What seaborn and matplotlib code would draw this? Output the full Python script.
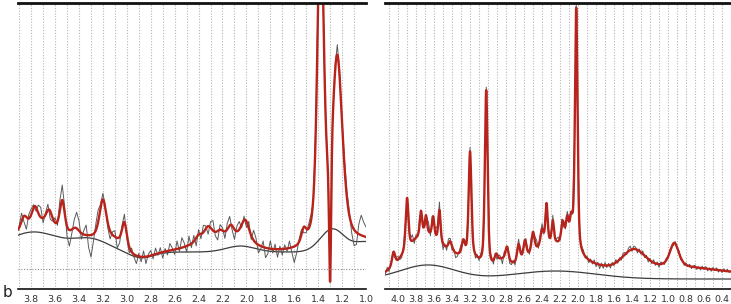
# %%
import numpy as np
import pandas as pd
import matplotlib.pyplot as plt
import seaborn as sns
from matplotlib.ticker import MultipleLocator, FormatStrFormatter

sns.set_style('white')

# %% left spectrum (3.90 - 1.00 ppm), heights in plot units
left_bl_offset = 37
left_bl_center = [3.78, 3.30, 2.88, 2.05, 1.28, 1.00]
left_bl_height = [20, 12, -6, 6, 23, 10]
left_bl_sigma = [0.22, 0.15, 0.10, 0.12, 0.10, 0.10]

left_broad_center = [3.70, 3.10, 2.25]
left_broad_height = [10, 7, 13]
left_broad_sigma = [0.12, 0.06, 0.18]

left_line_center = [3.86, 3.77, 3.65, 3.54, 3.43, 3.20, 3.02, 2.40, 2.32,
                    2.22, 2.13, 2.01, 1.52, 1.38, 1.30, 1.24]
left_line_height = [12, 16, 14, 32, 8, 40, 26, 6, 12,
                    5, 10, 20, 14, 330, -140, 170]
left_line_hwhm = [0.03, 0.03, 0.03, 0.025, 0.04, 0.035, 0.025, 0.03, 0.04,
                  0.03, 0.03, 0.04, 0.025, 0.03, 0.01, 0.05]

# residual of the measured trace, every 0.02 ppm from 3.90 to 1.00
left_resid = [2, 8, -6, -12, 4, 6,
              3, -4, 8, 10, -5, 2, 6, -8, -3, 5,
              -4, 10, 15, 6, -10, -16, -4, 8, 16, 10,
              -6, 4, 10, -12, -22, -8, 6, 12, 4, 6,
              2, -5, -8, 3, 6, -10, -6, 4, 8, -3,
              -6, 4, -3, -8, 3, -5, 6, -7, 2, 5,
              -4, 6, -2, 5, -6, 3, -4, 7, 2, -5,
              8, -3, 10, 4, -6, 9, -4, 6, -8, 5,
              -5, 7, 3, -8, 6, 10, -4, -9, 5, 3,
              -7, 6, 9, -4, -10, 5, 8, -3, 4, -6,
              7, -4, 10, 5, -8, -3, 6, -10, -5, 8,
              -4, 5, -8, 3, -6, 4, -3, 7, -5, -16,
              -8, 2, 5, -6, -4, 4, 6, -3, 5, 8,
              6, -4, 3, -2, 2, 4, 6, 10, 6, 2,
              8, 6, 4, -8, -16, -12, 10, 20, 14, 10]

# %% right spectrum (4.14 - 0.30 ppm)
right_bl_offset = 10
right_bl_center = [3.67, 2.25]
right_bl_height = [14, 8]
right_bl_sigma = [0.30, 0.45]

right_broad_center = [3.70, 3.30, 3.15, 2.85, 2.30, 1.38, 1.00]
right_broad_height = [30, 8, 10, 12, 24, 18, 12]
right_broad_sigma = [0.20, 0.12, 0.10, 0.08, 0.25, 0.12, 0.70]

right_line_center = [4.05, 3.90, 3.745, 3.69, 3.61, 3.54, 3.42, 3.275, 3.20,
                     3.02, 2.91, 2.79, 2.66, 2.59, 2.50, 2.40, 2.35, 2.28,
                     2.17, 2.12, 2.075, 2.02, 0.93]
right_line_height = [14, 52, 24, 18, 20, 32, 10, 14, 105,
                     178, 8, 14, 18, 18, 20, 16, 40, 22,
                     22, 26, 26, 245, 24]
right_line_hwhm = [0.02, 0.018, 0.015, 0.015, 0.015, 0.015, 0.025, 0.02, 0.018,
                   0.018, 0.02, 0.02, 0.02, 0.02, 0.02, 0.02, 0.015, 0.015,
                   0.02, 0.02, 0.02, 0.017, 0.06]

# residual every 0.02 ppm from 4.14 to 0.30
right_resid = [-2, 3, -3, 1, 2, -4, 2, 3, -2, -3,
               2, 4, -3, -5, 2, 6, -4, 3, -2, 8,
               -3, 4, -6, 3, 8, -4, 5, -3, 6, 4,
               8, -3, -6, 2, -4, 5, 3, -4, 2, -5,
               -3, 2, 4, -2, 3, -2, 2, 4, -3, 2,
               -4, 2, -3, 3, 2, -2, 3, 4, -2, 3,
               -4, 2, -5, 3, 2, -6, 4, -2, 3, -5,
               -3, 2, -4, 3, 5, -2, 3, -3, 4, 2,
               -3, 5, -2, 4, 6, -3, 2, 5, -2, 3,
               -4, 3, -2, 5, -3, 2, 4, -3, 6, 2,
               -3, 4, 3, 2, -2, 5, 3, 2, -3, 2,
               3, -2, 2, -3, 2, -2, 3, -3, 2, -4,
               2, -3, 3, -2, 2, -3, 2, -2, 3, -2,
               2, -2, 3, 2, -2, 3, 4, -2, 3, 2,
               -3, 2, -2, 3, -2, 2, -3, 2, -2, 3,
               -2, 2, -3, 2, 1, -2, 2, -1, 2, 1,
               -2, 2, -1, 2, -2, 1, -2, 2, -1, 2,
               -2, 1, 2, -2, 1, -2, 2, -1, 2, -2,
               1, -2, 2, -1, 2, -2, 1, -2, 2, -1,
               2, -1, 1]


# %%
def gauss(x, centers, heights, sigmas):
    y = np.zeros_like(x)
    for c, h, s in zip(centers, heights, sigmas):
        y += h * np.exp(-(x - c) ** 2 / (2 * s ** 2))
    return y


def pvoigt(x, centers, heights, hwhm, eta=0.5):
    y = np.zeros_like(x)
    for c, h, w in zip(centers, heights, hwhm):
        d = (x - c) / w
        y += h * (eta / (1 + d ** 2) + (1 - eta) * np.exp(-np.log(2) * d ** 2))
    return y


def spectrum(x, p):
    base = p['off'] + gauss(x, *p['bl'])
    fit = base + gauss(x, *p['broad']) + pvoigt(x, *p['lines'])
    return base, fit


left = dict(off=left_bl_offset,
            bl=(left_bl_center, left_bl_height, left_bl_sigma),
            broad=(left_broad_center, left_broad_height, left_broad_sigma),
            lines=(left_line_center, left_line_height, left_line_hwhm))
right = dict(off=right_bl_offset,
             bl=(right_bl_center, right_bl_height, right_bl_sigma),
             broad=(right_broad_center, right_broad_height, right_broad_sigma),
             lines=(right_line_center, right_line_height, right_line_hwhm))


def draw(ax, p, resid, start, stop, xlim, zero_line=None):
    x = np.linspace(xlim[0], xlim[1], 3000)
    base, fit = spectrum(x, p)
    xs = np.linspace(start, stop, len(resid))
    data = spectrum(xs, p)[1] + np.array(resid)

    df = pd.DataFrame({'ppm': x, 'baseline': base, 'fit': fit})
    dd = pd.DataFrame({'ppm': xs, 'signal': data})

    sns.lineplot(data=df, x='ppm', y='baseline', ax=ax, color='#3c3c3c',
                 lw=0.9, estimator=None, sort=False)
    sns.lineplot(data=dd, x='ppm', y='signal', ax=ax, color='#5a5a5a',
                 lw=0.7, estimator=None, sort=False)
    sns.lineplot(data=df, x='ppm', y='fit', ax=ax, color='#b8231b',
                 lw=1.7, estimator=None, sort=False)
    if zero_line is not None:
        ax.axhline(zero_line, color='#8a8a8a', ls=(0, (1, 1.5)), lw=0.8)

    ax.set_xlim(*xlim)
    ax.set_ylim(0, 286)
    ax.set_yticks([])
    ax.set_xlabel('')
    ax.set_ylabel('')
    ax.xaxis.set_major_locator(MultipleLocator(0.2))
    ax.xaxis.set_minor_locator(MultipleLocator(0.1))
    ax.xaxis.set_major_formatter(FormatStrFormatter('%.1f'))
    ax.grid(axis='x', which='both', color='#b5b5b5', ls=(0, (1, 1.5)), lw=0.8)
    ax.set_axisbelow(True)
    for s in ['left', 'right']:
        ax.spines[s].set_visible(False)
    ax.spines['top'].set_linewidth(2)
    ax.spines['bottom'].set_linewidth(1.2)
    ax.spines['top'].set_color('#111111')
    ax.spines['bottom'].set_color('#111111')
    ax.tick_params(axis='x', which='major', direction='out', length=3,
                   width=1, labelsize=6.8, pad=1, labelcolor='#333333')
    ax.tick_params(axis='x', which='minor', direction='out', length=2, width=0.8)


# %%
fig = plt.figure(figsize=(7.31, 3.04), dpi=100)
ax1 = fig.add_axes([18 / 731, 15 / 304, 348 / 731, 286 / 304])
ax2 = fig.add_axes([385 / 731, 15 / 304, 346 / 731, 286 / 304])

draw(ax1, left, left_resid, 3.90, 1.00, (3.91, 1.0), zero_line=20)
draw(ax2, right, right_resid, 4.14, 0.30, (4.145, 0.30))

fig.text(0.004, 0.022, 'b', fontsize=11, color='#222222')

plt.savefig('out.png', dpi=100)
